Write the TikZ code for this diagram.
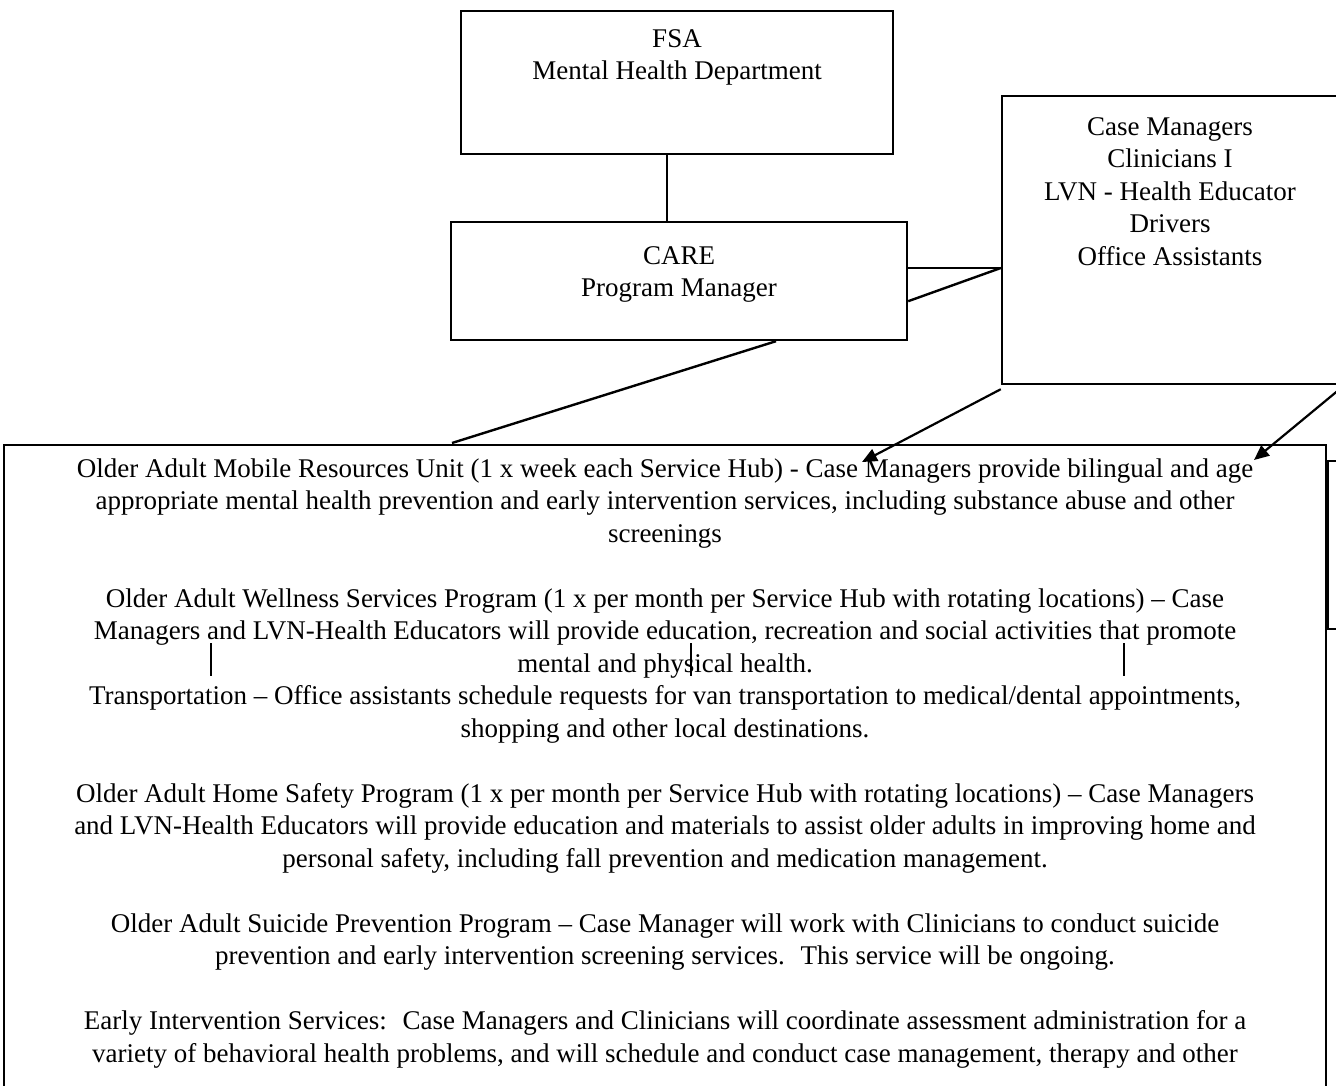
\documentclass[tikz,border=0pt]{standalone}
\usepackage{fontspec}
\setmainfont{Liberation Serif}
\usetikzlibrary{arrows.meta,calc}

\tikzset{
  orgbox/.style={draw, line width=1.2pt, inner sep=0pt},
  boxtext/.style={anchor=north, align=center, inner sep=0pt},
  link/.style={line width=1.2pt},
  tick/.style={line width=0.7pt},
  feed/.style={line width=1.1pt, -{Triangle[length=7.5pt,width=6.5pt]}}
}

\begin{document}
\begin{tikzpicture}[x=0.5pt,y=-0.5pt,font=\fontsize{13.5}{16.25}\selectfont]
\useasboundingbox (0,0) rectangle (1336,1085);
\clip (0,0) rectangle (1336,1085);

% boxes
\node[orgbox, minimum width=216pt, minimum height=71.5pt] (fsa) at (677,82.5) {};
\node[boxtext] (fsatext) at (677,29) {FSA\\Mental Health Department};

\node[orgbox, minimum width=228pt, minimum height=59pt] (care) at (679,281) {};
\node[boxtext] (caretext) at (679,246) {CARE\\Program Manager};

\node[orgbox, minimum width=168pt, minimum height=144pt] (staff) at (1170,240) {};
\node[boxtext] (stafftext) at (1170,117) {Case Managers\\Clinicians I\\LVN - Health Educator\\Drivers\\Office Assistants};

\node[orgbox, line width=0.8pt, minimum width=661pt, minimum height=400pt, anchor=north] (services) at (665,444) {};
\node[orgbox, line width=0.8pt, minimum width=15pt, minimum height=84pt, anchor=north west] (side) at (1327,460) {};

\node[boxtext] (servicestext) at (665,458) {%
Older Adult Mobile Resources Unit (1 x week each Service Hub) - Case Managers provide bilingual and age\\
appropriate mental health prevention and early intervention services, including substance abuse and other\\
screenings\\[16.25pt]
Older Adult Wellness Services Program (1 x per month per Service Hub with rotating locations) – Case\\
Managers and LVN-Health Educators will provide education, recreation and social activities that promote\\
mental and physical health.\\
Transportation – Office assistants schedule requests for van transportation to medical/dental appointments,\\
shopping and other local destinations.\\[16.25pt]
Older Adult Home Safety Program (1 x per month per Service Hub with rotating locations) – Case Managers\\
and LVN-Health Educators will provide education and materials to assist older adults in improving home and\\
personal safety, including fall prevention and medication management.\\[16.25pt]
Older Adult Suicide Prevention Program – Case Manager will work with Clinicians to conduct suicide\\
prevention and early intervention screening services.~ This service will be ongoing.\\[16.25pt]
Early Intervention Services:~ Case Managers and Clinicians will coordinate assessment administration for a\\
variety of behavioral health problems, and will schedule and conduct case management, therapy and other};

% connectors
\coordinate (fsalink) at (667,0);
\coordinate (tie) at (0,268);
\draw[link] (fsa.south -| fsalink) -- (care.north -| fsalink);
\draw[link] (care.east |- tie) -- (staff.west |- tie);
\draw[link] ($(care.south east)+(0,-40)$) -- (staff.west |- tie);
\draw[link] ($(care.south)+(97,0)$) -- ($(services.north)+(-213,-1)$);

\draw[feed] ($(staff.south west)+(0,4)$) -- ($(services.north)+(197,18)$);
\draw[feed] ($(staff.south east)+(-2,6)$) -- ($(services.north)+(589,16)$);

\foreach \x in {211,691,1124}
  \draw[tick] (\x,643) -- (\x,676);
\end{tikzpicture}
\end{document}
